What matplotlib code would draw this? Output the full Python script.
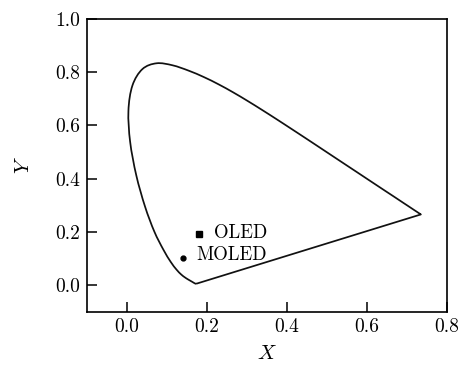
import matplotlib
matplotlib.use("Agg")
import matplotlib.pyplot as plt
from matplotlib.path import Path
from matplotlib.patches import PathPatch

plt.rcParams['font.family'] = ['cmr10', 'DejaVu Serif']
plt.rcParams['mathtext.fontset'] = 'cm'
plt.rcParams['axes.formatter.use_mathtext'] = True

# CIE 1931 spectral locus chromaticity (380-700 nm, 5 nm steps)
locus_x = [0.1741, 0.1740, 0.1738, 0.1736, 0.1733, 0.1730, 0.1726, 0.1721, 0.1714, 0.1703,
           0.1689, 0.1669, 0.1644, 0.1611, 0.1566, 0.1510, 0.1440, 0.1355, 0.1241, 0.1096,
           0.0913, 0.0687, 0.0454, 0.0235, 0.0082, 0.0039, 0.0139, 0.0389, 0.0743, 0.1142,
           0.1547, 0.1929, 0.2296, 0.2658, 0.3016, 0.3373, 0.3731, 0.4087, 0.4441, 0.4788,
           0.5125, 0.5448, 0.5752, 0.6029, 0.6270, 0.6482, 0.6658, 0.6801, 0.6915, 0.7006,
           0.7079, 0.7140, 0.7190, 0.7230, 0.7260, 0.7283, 0.7300, 0.7311, 0.7320, 0.7327,
           0.7334, 0.7340, 0.7344, 0.7346, 0.7347]
locus_y = [0.0050, 0.0050, 0.0049, 0.0049, 0.0048, 0.0048, 0.0048, 0.0048, 0.0051, 0.0058,
           0.0069, 0.0086, 0.0109, 0.0138, 0.0177, 0.0227, 0.0297, 0.0399, 0.0578, 0.0868,
           0.1327, 0.2007, 0.2950, 0.4127, 0.5384, 0.6548, 0.7502, 0.8120, 0.8338, 0.8262,
           0.8059, 0.7816, 0.7543, 0.7243, 0.6923, 0.6589, 0.6245, 0.5896, 0.5547, 0.5202,
           0.4866, 0.4544, 0.4242, 0.3965, 0.3725, 0.3514, 0.3340, 0.3197, 0.3083, 0.2993,
           0.2920, 0.2859, 0.2809, 0.2770, 0.2740, 0.2717, 0.2700, 0.2689, 0.2680, 0.2673,
           0.2666, 0.2660, 0.2656, 0.2654, 0.2653]

oled_xy = (0.180, 0.193)
moled_xy = (0.140, 0.100)
xticks = [0.0, 0.2, 0.4, 0.6, 0.8]
yticks = [0.0, 0.2, 0.4, 0.6, 0.8, 1.0]


def smooth_path(xs, ys):
    """Catmull-Rom rendered as cubic Bezier segments through the given points,
    closed with a straight line (line of purples)."""
    pts = list(zip(xs, ys))
    n = len(pts)
    verts = [pts[0]]
    codes = [Path.MOVETO]
    for i in range(n - 1):
        p0 = pts[max(i - 1, 0)]
        p1 = pts[i]
        p2 = pts[i + 1]
        p3 = pts[min(i + 2, n - 1)]
        c1 = (p1[0] + (p2[0] - p0[0]) / 6.0, p1[1] + (p2[1] - p0[1]) / 6.0)
        c2 = (p2[0] - (p3[0] - p1[0]) / 6.0, p2[1] - (p3[1] - p1[1]) / 6.0)
        verts += [c1, c2, p2]
        codes += [Path.CURVE4] * 3
    verts.append(pts[0])
    codes.append(Path.LINETO)
    return Path(verts, codes)


fig = plt.figure(figsize=(4.72, 3.67), dpi=100)
ax = fig.add_axes([0.184, 0.151, 0.763, 0.797])

ax.add_patch(PathPatch(smooth_path(locus_x, locus_y), facecolor='none',
                       edgecolor='#111111', lw=1.25, joinstyle='round'))
ax.plot([oled_xy[0]], [oled_xy[1]], 's', color='black', ms=4.5)
ax.plot([moled_xy[0]], [moled_xy[1]], 'o', color='black', ms=3.5)
ax.text(oled_xy[0] + 0.039, oled_xy[1] + 0.002, 'OLED', fontsize=13.5, va='center', ha='left')
ax.text(moled_xy[0] + 0.033, moled_xy[1] + 0.012, 'MOLED', fontsize=13.5, va='center', ha='left')

ax.set_xlim(-0.1, 0.8)
ax.set_ylim(-0.1, 1.0)
ax.set_xticks(xticks)
ax.set_yticks(yticks)
ax.set_xticklabels([f'{v:.1f}' for v in xticks])
ax.set_yticklabels([f'{v:.1f}' for v in yticks])
ax.tick_params(direction='in', length=7, width=1.1, labelsize=14, pad=5)
for s in ax.spines.values():
    s.set_linewidth(1.2)
ax.set_xlabel('$X$', fontsize=15, labelpad=6)
ax.set_ylabel('$Y$', fontsize=15, labelpad=16)

fig.savefig('out.png', dpi=100)
